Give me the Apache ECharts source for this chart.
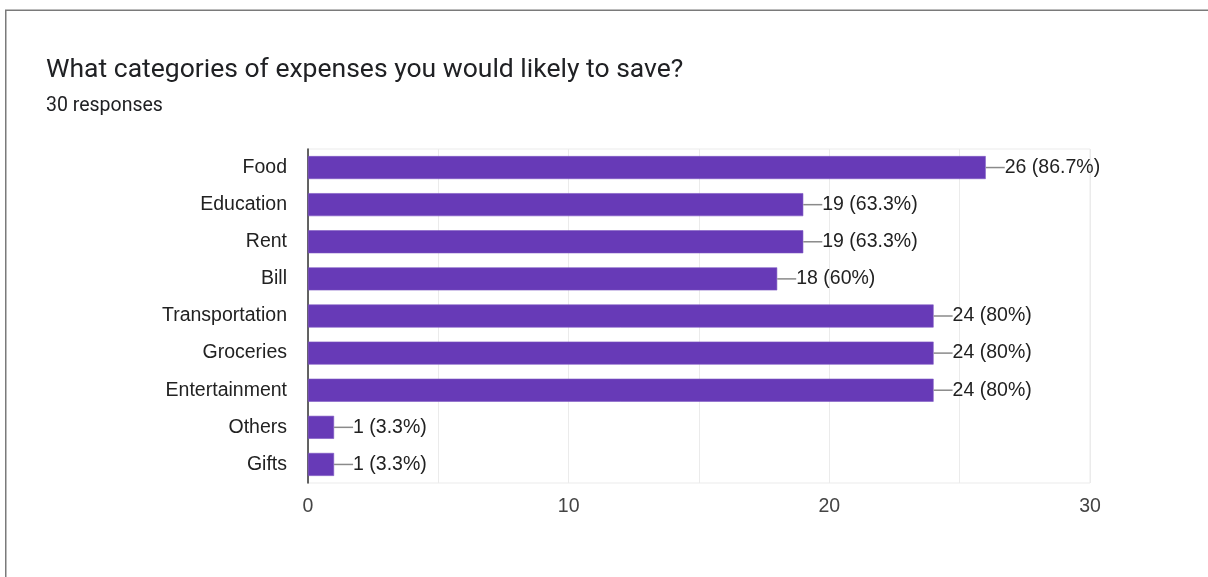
<!DOCTYPE html>
<html>
<head>
<meta charset="utf-8">
<script src="https://cdn.jsdelivr.net/npm/echarts@6/dist/echarts.min.js"></script>
<style>
  html, body { margin: 0; padding: 0; background: #fff; }
  #chart { width: 1208px; height: 577px; }
</style>
</head>
<body>
<div id="chart"></div>
<script>
// Survey answers: how many of the 30 respondents picked each category
const categories = ['Food', 'Education', 'Rent', 'Bill', 'Transportation', 'Groceries', 'Entertainment', 'Others', 'Gifts'];
const counts = [26, 19, 19, 18, 24, 24, 24, 1, 1];
const percents = ['86.7%', '63.3%', '63.3%', '60%', '80%', '80%', '80%', '3.3%', '3.3%'];
const xTicks = [0, 5, 10, 15, 20, 25, 30];
const totalResponses = 30;

const chart = echarts.init(document.getElementById('chart'), null, { renderer: 'canvas' });

const labelFont = '"Liberation Sans", Arial, sans-serif';

chart.setOption({
  backgroundColor: '#ffffff',
  animation: false,
  graphic: [{
    type: 'rect',
    shape: { x: 5.75, y: 10.25, width: 1400, height: 800 },
    style: { fill: 'none', stroke: '#7a7a7a', lineWidth: 1.5 },
    silent: true,
    z: -10
  }],
  title: {
    text: 'What categories of expenses you would likely to save?',
    subtext: totalResponses + ' responses',
    left: 41,
    top: 52,
    itemGap: 12,
    textStyle: { fontFamily: 'Roboto', fontSize: 26.5, fontWeight: 'normal', color: '#202124' },
    subtextStyle: { fontFamily: 'Roboto', fontSize: 19.5, color: '#202124' }
  },
  grid: {
    left: 308, right: 118, top: 149, bottom: 94,
    show: true, borderColor: '#ebebeb', borderWidth: 1
  },
  xAxis: {
    type: 'value',
    min: xTicks[0],
    max: xTicks[xTicks.length - 1],
    interval: 5,
    axisLine: { show: false },
    axisTick: { show: false },
    splitLine: { lineStyle: { color: '#ebebeb', width: 1 } },
    axisLabel: {
      margin: 14,
      fontFamily: labelFont, fontSize: 19.5, color: '#444',
      formatter: v => (v % 10 === 0 ? String(v) : '')
    }
  },
  yAxis: {
    type: 'category',
    data: categories,
    inverse: true,
    axisLine: { show: true, lineStyle: { color: '#333', width: 1.5 } },
    axisTick: { show: false },
    axisLabel: { margin: 21, fontFamily: labelFont, fontSize: 19.5, color: '#222' }
  },
  series: [{
    type: 'bar',
    data: counts,
    barWidth: 23,
    itemStyle: { color: '#673ab7', borderColor: '#7e57c2', borderWidth: 0.6 },
    label: {
      show: true,
      position: 'right',
      distance: 0,
      formatter: p => '{l|}{v|' + counts[p.dataIndex] + ' (' + percents[p.dataIndex] + ')}',
      rich: {
        l: { width: 19, height: 1.5, backgroundColor: '#8a8a8a' },
        v: { fontFamily: labelFont, fontSize: 19.5, color: '#222' }
      }
    }
  }]
});
</script>
</body>
</html>
